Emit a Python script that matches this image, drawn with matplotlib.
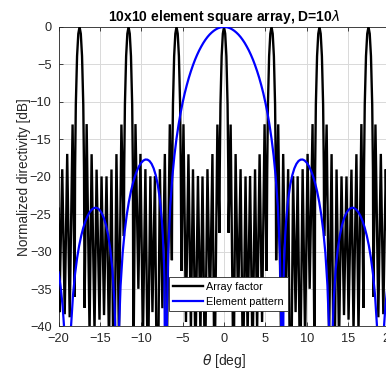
import matplotlib
matplotlib.use("Agg")
import matplotlib.pyplot as plt

# ---------------- data ----------------
x_ticks = [-20, -15, -10, -5, 0, 5, 10, 15, 20]
y_ticks = [0, -5, -10, -15, -20, -25, -30, -35, -40]
series_names = ["Array factor", "Element pattern"]

# Array factor: vertices (theta [deg], level [dB]) : lobe peaks, sidelobe peaks, null bottoms
af_theta = [
    -20.00, -19.95, -19.90, -19.55, -19.25, -18.95, -18.65, -18.30, -18.05,
    -17.999, -17.909, -17.758, -17.608, -17.458, -17.308, -17.158, -17.008, -16.918,
    -16.85, -16.60, -16.25, -16.00, -15.65, -15.40, -15.05, -14.80, -14.50, -14.20,
    -13.90, -13.60, -13.30, -13.00, -12.70, -12.40, -12.10,
    -12.064, -11.976, -11.829, -11.683, -11.537, -11.391, -11.245, -11.099, -11.011,
    -10.95, -10.70, -10.35, -10.10, -9.80, -9.50, -9.20, -8.90, -8.65, -8.35,
    -8.05, -7.75, -7.45, -7.15, -6.90, -6.55, -6.30,
    -6.258, -6.171, -6.027, -5.883, -5.739, -5.595, -5.451, -5.307, -5.221,
    -5.15, -4.90, -4.60, -4.30, -4.00, -3.75, -3.45, -3.15, -2.85, -2.60,
    -2.30, -2.00, -1.70, -1.40, -1.15, -0.80, -0.55,
    -0.516, -0.430, -0.286, -0.143, 0.000, 0.143, 0.286, 0.430, 0.516,
    0.55, 0.80, 1.15, 1.40, 1.70, 2.00, 2.30, 2.60, 2.85, 3.15,
    3.45, 3.75, 4.00, 4.30, 4.60, 4.90, 5.15,
    5.221, 5.307, 5.451, 5.595, 5.739, 5.883, 6.027, 6.171, 6.258,
    6.30, 6.55, 6.90, 7.15, 7.45, 7.75, 8.05, 8.35, 8.65, 8.90,
    9.20, 9.50, 9.80, 10.10, 10.35, 10.70, 10.95,
    11.011, 11.099, 11.245, 11.391, 11.537, 11.683, 11.829, 11.976, 12.064,
    12.10, 12.40, 12.70, 13.00, 13.30, 13.60, 13.90, 14.20, 14.50, 14.80,
    15.05, 15.40, 15.65, 16.00, 16.25, 16.60, 16.85,
    16.918, 17.008, 17.158, 17.308, 17.458, 17.608, 17.758, 17.909, 17.999,
    18.05, 18.30, 18.65, 18.95, 19.25, 19.55, 19.90, 19.95, 20.00,
]
af_db = [
    -24.26, -28.34, -38.09, -19.00, -38.36, -16.95, -38.77, -13.02, -36.03,
    -19.11, -10.37, -3.89, -0.90, 0.00, -0.90, -3.89, -10.37, -19.11,
    -37.50, -12.97, -40.85, -16.99, -40.68, -19.05, -39.09, -19.96, -38.48, -19.95,
    -42.49, -19.03, -54.29, -16.98, -41.65, -13.03, -27.92,
    -19.11, -10.37, -3.89, -0.90, 0.00, -0.90, -3.89, -10.37, -19.11,
    -46.33, -12.97, -34.97, -16.95, -41.76, -18.99, -48.14, -19.94, -38.08, -19.92,
    -58.21, -18.99, -37.56, -16.96, -42.77, -13.00, -31.15,
    -19.11, -10.37, -3.89, -0.90, 0.00, -0.90, -3.89, -10.37, -19.11,
    -32.58, -12.99, -39.40, -17.00, -40.54, -19.01, -44.63, -19.90, -41.17, -19.96,
    -47.24, -18.99, -37.70, -16.97, -48.57, -13.03, -27.48,
    -19.11, -10.37, -3.89, -0.90, 0.00, -0.90, -3.89, -10.37, -19.11,
    -27.48, -13.03, -48.57, -16.97, -37.70, -18.99, -47.24, -19.96, -41.17, -19.90,
    -44.63, -19.01, -40.54, -17.00, -39.40, -12.99, -32.58,
    -19.11, -10.37, -3.89, -0.90, 0.00, -0.90, -3.89, -10.37, -19.11,
    -31.15, -13.00, -42.77, -16.96, -37.56, -18.99, -58.21, -19.92, -38.08, -19.94,
    -48.14, -18.99, -41.76, -16.95, -34.97, -12.97, -46.33,
    -19.11, -10.37, -3.89, -0.90, 0.00, -0.90, -3.89, -10.37, -19.11,
    -27.92, -13.03, -41.65, -16.98, -54.29, -19.03, -42.49, -19.95, -38.48, -19.96,
    -39.09, -19.05, -40.68, -16.99, -40.85, -12.97, -37.50,
    -19.11, -10.37, -3.89, -0.90, 0.00, -0.90, -3.89, -10.37, -19.11,
    -36.03, -13.02, -38.77, -16.95, -38.36, -19.00, -38.09, -28.34, -24.26,
]

# Element pattern (theta [deg], level [dB]); nulls fall far below the axis
el_theta = [
    -20.0, -19.75, -19.5, -19.3, -18.895, -18.5, -18.25, -18.0, -17.75, -17.5,
    -17.25, -17.0, -16.75, -16.5, -16.25, -16.0, -15.75, -15.5, -15.25, -15.0,
    -14.75, -14.5, -14.25, -14.0, -13.75, -13.5, -13.25, -13.1, -12.904, -12.7,
    -12.5, -12.25, -12.0, -11.75, -11.5, -11.25, -11.0, -10.75, -10.5, -10.25,
    -10.0, -9.75, -9.5, -9.25, -9.0, -8.75, -8.5, -8.25, -8.0, -7.75,
    -7.5, -7.4, -7.25, -7.2, -7.006, -6.9, -6.75, -6.5, -6.25, -6.0,
    -5.75, -5.5, -5.25, -5.0, -4.75, -4.5, -4.25, -4.0, -3.75, -3.5,
    -3.25, -3.0, -2.75, -2.5, -2.25, -2.0, -1.75, -1.5, -1.25, -1.0,
    -0.75, -0.5, -0.25, 0.0,
    0.25, 0.5, 0.75, 1.0, 1.25, 1.5, 1.75, 2.0, 2.25, 2.5,
    2.75, 3.0, 3.25, 3.5, 3.75, 4.0, 4.25, 4.5, 4.75, 5.0,
    5.25, 5.5, 5.75, 6.0, 6.25, 6.5, 6.75, 6.9, 7.006, 7.2,
    7.25, 7.4, 7.5, 7.75, 8.0, 8.25, 8.5, 8.75, 9.0, 9.25,
    9.5, 9.75, 10.0, 10.25, 10.5, 10.75, 11.0, 11.25, 11.5, 11.75,
    12.0, 12.25, 12.5, 12.7, 12.904, 13.1, 13.25, 13.5, 13.75, 14.0,
    14.25, 14.5, 14.75, 15.0, 15.25, 15.5, 15.75, 16.0, 16.25, 16.5,
    16.75, 17.0, 17.25, 17.5, 17.75, 18.0, 18.25, 18.5, 18.895, 19.3,
    19.5, 19.75, 20.0,
]
el_db = [
    -32.77, -34.63, -37.31, -40.57, -70.0, -40.20, -35.85, -32.96, -30.83, -29.17,
    -27.85, -26.79, -25.94, -25.27, -24.76, -24.40, -24.20, -24.13, -24.23, -24.49,
    -24.93, -25.59, -26.53, -27.82, -29.62, -32.26, -36.64, -41.38, -70.0, -40.64,
    -34.54, -30.19, -27.26, -25.07, -23.35, -21.96, -20.82, -19.90, -19.15, -18.56,
    -18.13, -17.84, -17.70, -17.72, -17.90, -18.28, -18.89, -19.80, -21.10, -23.02,
    -26.01, -27.76, -31.61, -33.50, -70.0, -38.22, -30.28, -23.94, -20.06, -17.22,
    -14.97, -13.10, -11.49, -10.10, -8.86, -7.77, -6.78, -5.90, -5.10, -4.37,
    -3.72, -3.13, -2.61, -2.13, -1.71, -1.34, -1.02, -0.75, -0.52, -0.33,
    -0.18, -0.08, -0.02, 0.00,
    -0.02, -0.08, -0.18, -0.33, -0.52, -0.75, -1.02, -1.34, -1.71, -2.13,
    -2.61, -3.13, -3.72, -4.37, -5.10, -5.90, -6.78, -7.77, -8.86, -10.10,
    -11.49, -13.10, -14.97, -17.22, -20.06, -23.94, -30.28, -38.22, -70.0, -33.50,
    -31.61, -27.76, -26.01, -23.02, -21.10, -19.80, -18.89, -18.28, -17.90, -17.72,
    -17.70, -17.84, -18.13, -18.56, -19.15, -19.90, -20.82, -21.96, -23.35, -25.07,
    -27.26, -30.19, -34.54, -40.64, -70.0, -41.38, -36.64, -32.26, -29.62, -27.82,
    -26.53, -25.59, -24.93, -24.49, -24.23, -24.13, -24.20, -24.40, -24.76, -25.27,
    -25.94, -26.79, -27.85, -29.17, -30.83, -32.96, -35.85, -40.20, -70.0, -40.57,
    -37.31, -34.63, -32.77,
]
assert len(af_theta) == len(af_db)
assert len(el_theta) == len(el_db)

# ---------------- figure ----------------
plt.rcParams["font.family"] = ["Liberation Sans", "DejaVu Sans"]
plt.rcParams["mathtext.fontset"] = "dejavusans"
axis_col = "#262626"

fig = plt.figure(figsize=(3.86, 3.69), dpi=100)
ax = fig.add_axes([0.1516, 0.1152, 0.8575, 0.8117])

ax.plot(af_theta, af_db, color="black", lw=1.7, label=series_names[0],
        solid_joinstyle="miter", zorder=3)
ax.plot(el_theta, el_db, color="#0000ff", lw=1.6, label=series_names[1], zorder=4)

ax.set_xlim(-20, 20)
ax.set_ylim(-40, 0)
ax.set_xticks(x_ticks)
ax.set_yticks(y_ticks)
ax.grid(True, color="#d9d9d9", lw=0.7, zorder=0)
ax.set_axisbelow(True)
ax.tick_params(direction="in", length=3.0, width=0.6, colors=axis_col,
               labelsize=9.2, top=True, right=True)
ax.tick_params(axis="y", pad=5)
ax.tick_params(axis="x", pad=5)
for s in ax.spines.values():
    s.set_color(axis_col)
    s.set_linewidth(0.6)

ax.set_title("10x10 element square array, D=10$\\lambda$", fontsize=10,
             fontweight="bold", pad=4, color="black")
ax.set_xlabel("$\\theta$ [deg]", fontsize=10.0, color=axis_col, labelpad=5)
ax.set_ylabel("Normalized directivity [dB]", fontsize=9.8, color=axis_col, labelpad=-1)

leg = ax.legend(loc="lower left", bbox_to_anchor=(0.334, 0.052), fontsize=7.8,
                handlelength=2.7, handletextpad=0.3, borderpad=0.4,
                labelspacing=0.45, borderaxespad=0.0, fancybox=False,
                framealpha=1.0, edgecolor=axis_col)
leg.get_frame().set_linewidth(0.6)
leg.set_zorder(5)

fig.savefig("out.png", dpi=100)
